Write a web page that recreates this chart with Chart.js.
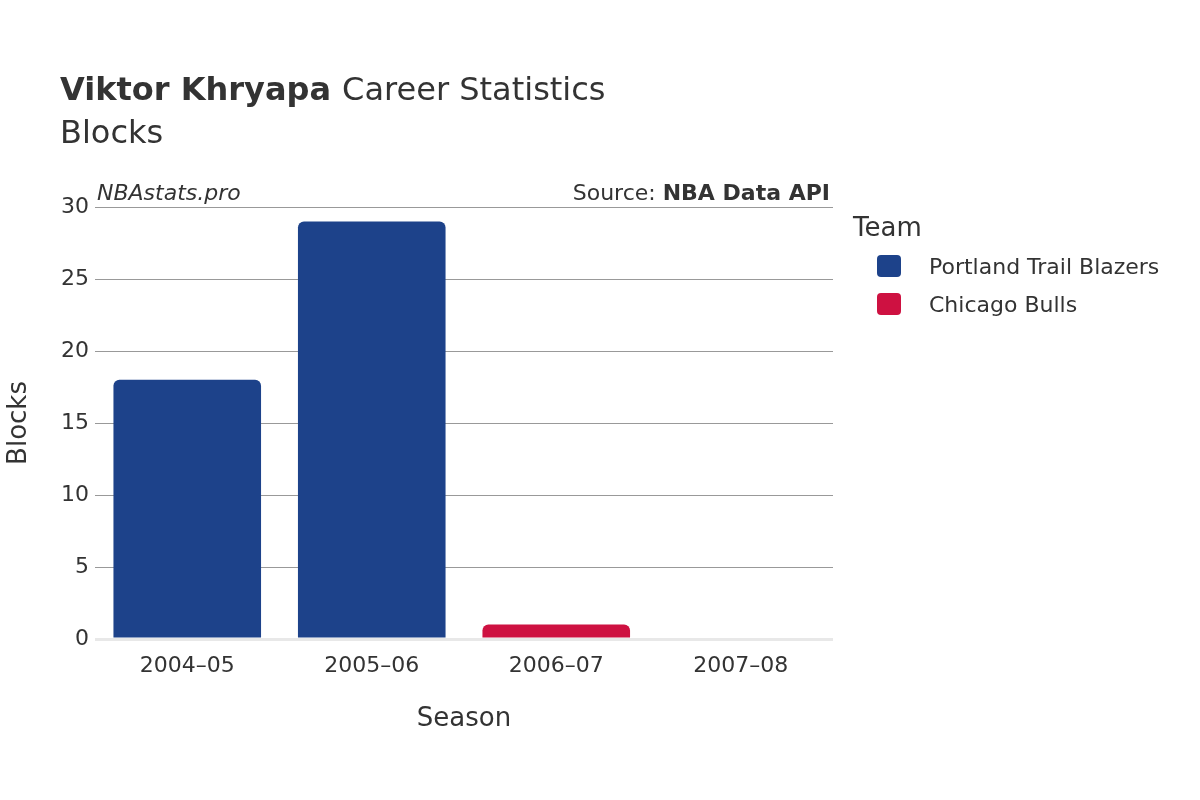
<!DOCTYPE html>
<html><head><meta charset="utf-8">
<script src="https://cdn.jsdelivr.net/npm/chart.js@4"></script>
<style>body{margin:0;background:#fff}</style>
</head><body><canvas id="c" width="1200" height="800"></canvas>
<script>
const seasons = ["2004–05","2005–06","2006–07","2007–08"];
const portland = [18, 29, null, null];
const chicago = [null, null, 1, 0];
const teams = ["Portland Trail Blazers","Chicago Bulls"];
const colors = ["#1d428a","#ce1141"];
const yTicks = [0,5,10,15,20,25,30];
const F = "'DejaVu Sans', sans-serif";
const txt = {
  id:'txt',
  afterDraw(ch){
    const c=ch.ctx; c.save(); c.fillStyle='#333'; c.textBaseline='alphabetic';
    c.font="bold 32px "+F; c.textAlign='left'; c.fillText("Viktor Khryapa",60,100);
    const w=c.measureText("Viktor Khryapa ").width;
    c.font="32px "+F; c.fillText("Career Statistics",60+w,100);
    c.fillText("Blocks",60,143);
    c.font="italic 22px "+F; c.fillText("NBAstats.pro",97,200);
    c.textAlign='right'; c.font="bold 22px "+F; c.fillText("NBA Data API",830,200);
    const bw=c.measureText("NBA Data API").width;
    c.font="22px "+F; c.fillText("Source: ",830-bw,200);
    c.textAlign='left'; c.font="26px "+F; c.fillText("Team",853,236);
    c.font="22px "+F;
    ch.data.datasets.forEach((d,i)=>{
      const y=266+i*38;
      c.fillStyle=d.backgroundColor; c.beginPath(); c.roundRect(877,y-11,24,22,4); c.fill();
      c.fillStyle='#333'; c.fillText(d.label,929,y+8);
    });
    c.restore();
  }
};
new Chart(document.getElementById('c'),{
  type:'bar',
  data:{labels:seasons,datasets:[
    {label:teams[0],data:portland,backgroundColor:colors[0],grouped:false,barPercentage:0.8,categoryPercentage:1,borderRadius:6,borderSkipped:'bottom'},
    {label:teams[1],data:chicago,backgroundColor:colors[1],grouped:false,barPercentage:0.8,categoryPercentage:1,borderRadius:6,borderSkipped:'bottom'}
  ]},
  options:{responsive:false,animation:false,devicePixelRatio:1,
    layout:{padding:{top:207,right:367,left:0,bottom:61}},
    plugins:{legend:{display:false},tooltip:{enabled:false}},
    scales:{
      y:{min:0,max:30,afterFit(s){s.width=95;},
        afterBuildTicks(s){s.ticks=yTicks.map(v=>({value:v}));},
        grid:{color:c=>c.tick.value===0?'#e8e8e8':'#999',lineWidth:c=>c.tick.value===0?3:1,drawTicks:false},
        border:{display:false},
        ticks:{color:'#333',font:{size:22,family:F},padding:6},
        title:{display:true,text:'Blocks',color:'#333',font:{size:26,family:F},padding:{bottom:2}}},
      x:{afterFit(s){s.height=100;},grid:{display:false},border:{display:false},
        ticks:{color:'#333',font:{size:22,family:F},padding:6},
        title:{display:true,text:'Season',color:'#333',font:{size:26,family:F},padding:{top:18}}}
    }},
  plugins:[txt]
});
</script></body></html>
